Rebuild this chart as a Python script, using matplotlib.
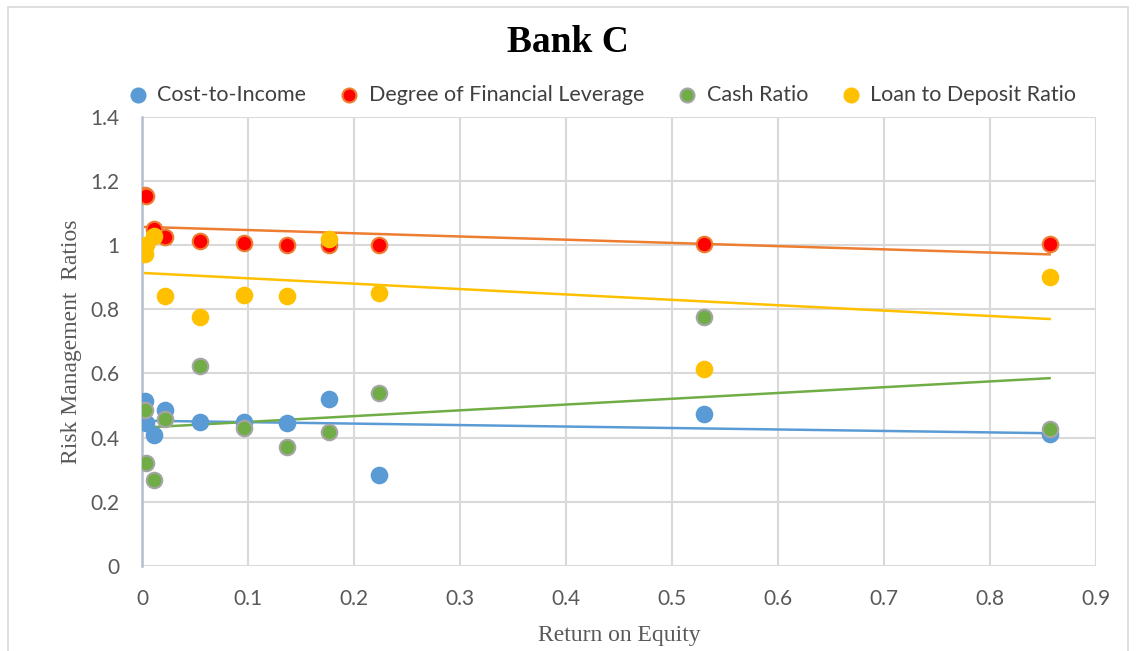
import numpy as np
import matplotlib
matplotlib.use("Agg")
import matplotlib.pyplot as plt
from matplotlib.patches import Rectangle

# Return on Equity (x) and the four risk management ratios (y)
roe = [0.003, 0.004, 0.011, 0.022, 0.055, 0.096, 0.137, 0.176, 0.224, 0.530, 0.856]
cost_to_income = [0.514, 0.446, 0.407, 0.485, 0.449, 0.449, 0.446, 0.519, 0.282, 0.475, 0.411]
fin_leverage = [1.157, 1.155, 1.052, 1.025, 1.015, 1.007, 1.002, 1.002, 1.002, 1.003, 1.003]
cash_ratio = [0.487, 0.320, 0.269, 0.457, 0.623, 0.431, 0.372, 0.418, 0.540, 0.777, 0.427]
loan_deposit = [0.973, 1.002, 1.028, 0.843, 0.777, 0.846, 0.843, 1.020, 0.851, 0.615, 0.900]

series = [
    ("Cost-to-Income", cost_to_income, "#5B9BD5", "#5B9BD5", "#5B9BD5"),
    ("Degree of Financial Leverage", fin_leverage, "#FF0000", "#ED7D31", "#ED7D31"),
    ("Cash Ratio", cash_ratio, "#70AD47", "#A5A5A5", "#70AD47"),
    ("Loan to Deposit Ratio", loan_deposit, "#FFC000", "#FFC000", "#FFC000"),
]

plt.rcParams['font.family'] = ['Lato', 'DejaVu Sans']

fig = plt.figure(figsize=(11.36, 6.51), dpi=100)
ax = fig.add_axes([0.125, 0.131, 0.840, 0.689])

x = np.array(roe)
xs = np.array([x.min(), x.max()])
for name, vals, face, edge, trend in series:
    ax.scatter(x, vals, s=125, c=face, edgecolors=edge, linewidths=1.5,
               label=name, zorder=3)
    # linear trendline over the data range
    k, b = np.polyfit(x, vals, 1)
    ax.plot(xs, k * xs + b, color=trend, lw=1.8, zorder=2)

ax.set_xlim(0, 0.9)
ax.set_ylim(0, 1.4)
ax.set_xticks(np.arange(0, 0.91, 0.1))
ax.set_yticks(np.arange(0, 1.41, 0.2))
ax.set_xticklabels(["0", "0.1", "0.2", "0.3", "0.4", "0.5", "0.6", "0.7", "0.8", "0.9"])
ax.set_yticklabels(["0", "0.2", "0.4", "0.6", "0.8", "1", "1.2", "1.4"])
ax.tick_params(length=0, labelsize=15, colors="#595959")
ax.tick_params(axis="x", pad=17)
ax.tick_params(axis="y", pad=16)
ax.grid(color="#D9D9D9", lw=1.5, zorder=0)
for side in ["top", "right", "bottom"]:
    ax.spines[side].set_visible(False)
ax.spines["left"].set_color("#B4BECD")
ax.spines["left"].set_linewidth(1.8)

ax.set_xlabel("Return on Equity", family="Liberation Serif", fontsize=17,
              color="#595959", labelpad=11)
ax.set_ylabel("Risk Management  Ratios", family="Liberation Serif", fontsize=17,
              color="#595959", labelpad=6)

fig.text(0.5, 0.934, "Bank C", family="Liberation Serif", weight="bold",
         fontsize=27, ha="center", va="center")

leg = fig.legend(loc="center", bbox_to_anchor=(0.525, 0.854), ncol=4,
                 frameon=False, fontsize=15.5, handletextpad=-0.1,
                 columnspacing=1.0, markerscale=0.9, labelcolor="#404040")

fig.add_artist(Rectangle((0.007, -0.01), 0.986, 1.0, transform=fig.transFigure,
                         fill=False, edgecolor="#D9D9D9", lw=1.2))

fig.savefig("out.png", dpi=100)
